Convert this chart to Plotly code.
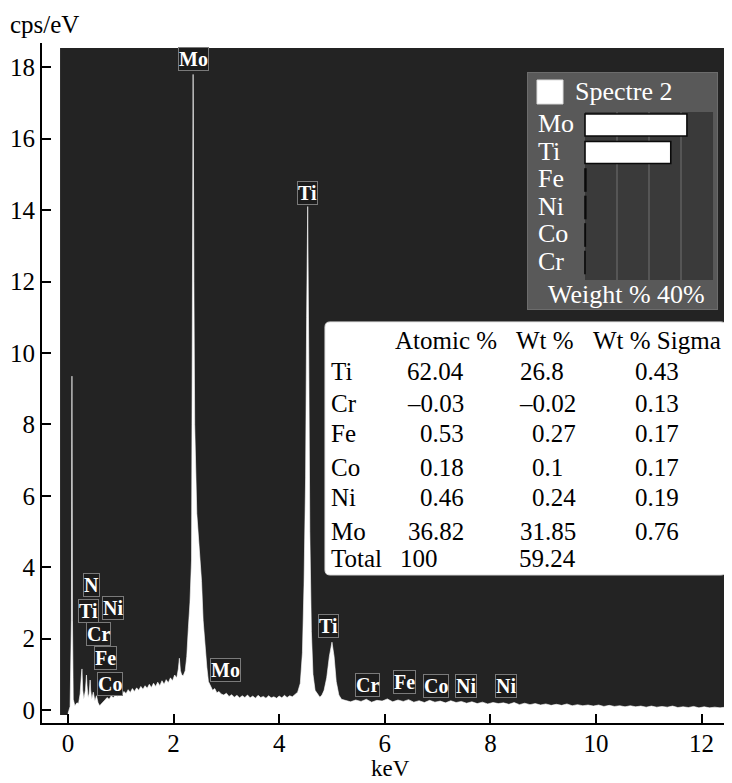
import plotly.graph_objects as go

# ---------------- data ----------------
# EDS spectrum (keV, cps/eV), in segments
energy_low = [0.00, 0.04, 0.065, 0.075, 0.085, 0.10, 0.13, 0.17, 0.20, 0.23,
              0.255, 0.265, 0.28, 0.30, 0.33, 0.35, 0.36, 0.38, 0.40, 0.42,
              0.43, 0.45, 0.48, 0.51, 0.54, 0.57, 0.60, 0.63, 0.66]
counts_low = [-0.10, 0.10, 2.5, 9.35, 2.5, 0.30, 0.12, 0.20, 0.18, 0.45,
              1.00, 1.15, 0.55, 0.30, 0.55, 0.98, 0.70, 0.35, 0.45, 0.84,
              0.55, 0.30, 0.50, 0.25, 0.40, 0.20, 0.12, 0.18, 0.22]

energy_rise = [0.70, 0.74, 0.78, 0.82, 0.86, 0.90, 0.94, 0.98, 1.02, 1.06,
               1.10, 1.14, 1.18, 1.22, 1.26, 1.30, 1.34, 1.38, 1.42, 1.46,
               1.50, 1.54, 1.58, 1.62, 1.66, 1.70, 1.74, 1.78, 1.82, 1.86,
               1.90, 1.94, 1.98, 2.02, 2.06, 2.09, 2.11, 2.13, 2.15, 2.18]
counts_rise = [0.28, 0.35, 0.30, 0.40, 0.34, 0.44, 0.38, 0.50, 0.42, 0.52,
               0.46, 0.57, 0.49, 0.60, 0.52, 0.62, 0.55, 0.66, 0.58, 0.68,
               0.61, 0.72, 0.63, 0.75, 0.66, 0.78, 0.68, 0.82, 0.72, 0.85,
               0.76, 0.90, 0.82, 0.98, 0.90, 1.15, 1.45, 1.10, 1.00, 0.95]

energy_mo = [2.22, 2.25, 2.28, 2.31, 2.34, 2.355, 2.37, 2.385, 2.40, 2.44,
             2.49, 2.53, 2.56, 2.59, 2.63, 2.66]
counts_mo = [1.10, 1.50, 2.30, 3.00, 4.20, 9.00, 17.80, 12.0, 8.0, 5.5,
             4.3, 3.6, 2.5, 1.9, 1.2, 0.8]

energy_mid = [2.70, 2.74, 2.78, 2.82, 2.86, 2.90, 2.95, 3.00, 3.05, 3.10,
              3.15, 3.20, 3.25, 3.30, 3.35, 3.40, 3.45, 3.50, 3.55, 3.60,
              3.65, 3.70, 3.75, 3.80, 3.85, 3.90, 3.95, 4.00, 4.05, 4.10,
              4.15, 4.20, 4.25, 4.30, 4.35]
counts_mid = [0.65, 0.55, 0.60, 0.48, 0.52, 0.45, 0.42, 0.47, 0.38, 0.43,
              0.36, 0.41, 0.34, 0.40, 0.35, 0.42, 0.34, 0.39, 0.33, 0.41,
              0.35, 0.38, 0.33, 0.40, 0.34, 0.37, 0.33, 0.39, 0.34, 0.41,
              0.35, 0.40, 0.37, 0.43, 0.50]

energy_ti = [4.40, 4.44, 4.47, 4.50, 4.52, 4.54, 4.56, 4.58, 4.61, 4.64,
             4.68, 4.72, 4.77, 4.81, 4.85, 4.90, 4.95, 5.00, 5.04, 5.08,
             5.13, 5.18]
counts_ti = [0.75, 1.60, 3.50, 6.50, 11.0, 14.1, 10.0, 5.0, 2.2, 1.0,
             0.55, 0.45, 0.36, 0.42, 0.55, 0.90, 1.50, 1.90, 1.50, 0.80,
             0.42, 0.30]

energy_tail = [5.25, 5.35, 5.45, 5.55, 5.65, 5.75, 5.85, 5.95, 6.05, 6.15,
               6.25, 6.35, 6.45, 6.55, 6.65, 6.75, 6.85, 6.95, 7.05, 7.15,
               7.25, 7.35, 7.45, 7.55, 7.65, 7.75, 7.85, 7.95, 8.05, 8.15,
               8.25, 8.35, 8.45, 8.55, 8.65, 8.75, 8.85, 8.95, 9.05, 9.15,
               9.25, 9.35, 9.45, 9.55, 9.65, 9.75, 9.85, 9.95, 10.05, 10.15,
               10.25, 10.35, 10.45, 10.55, 10.65, 10.75, 10.85, 10.95, 11.05, 11.15,
               11.25, 11.35, 11.45, 11.55, 11.65, 11.75, 11.85, 11.95, 12.05, 12.15,
               12.25, 12.35, 12.45, 12.55, 12.65]
counts_tail = [0.27, 0.23, 0.28, 0.24, 0.30, 0.22, 0.27, 0.25, 0.31, 0.23,
               0.28, 0.24, 0.29, 0.22, 0.26, 0.21, 0.27, 0.22, 0.25, 0.20,
               0.26, 0.21, 0.24, 0.19, 0.23, 0.18, 0.22, 0.17, 0.21, 0.18,
               0.20, 0.16, 0.21, 0.15, 0.19, 0.15, 0.18, 0.14, 0.17, 0.13,
               0.16, 0.13, 0.17, 0.12, 0.15, 0.12, 0.14, 0.11, 0.14, 0.10,
               0.13, 0.10, 0.12, 0.09, 0.12, 0.09, 0.11, 0.08, 0.11, 0.08,
               0.10, 0.08, 0.11, 0.07, 0.09, 0.07, 0.10, 0.06, 0.09, 0.06,
               0.08, 0.06, 0.08, 0.05, 0.07]

# peak identification labels
peak_labels = ["Mo", "Ti", "Ti", "N", "Ti", "Ni", "Cr", "Fe", "Co", "Mo",
               "Cr", "Fe", "Co", "Ni", "Ni"]
peak_label_kev = [2.37, 4.545, 4.94, 0.44, 0.38, 0.85, 0.57, 0.72, 0.80, 2.99,
                  5.68, 6.38, 6.97, 7.54, 8.30]
peak_label_cps = [18.24, 14.48, 2.35, 3.50, 2.77, 2.86, 2.14, 1.46, 0.74, 1.12,
                  0.70, 0.78, 0.67, 0.67, 0.67]

# quantification table
table_elements = ["Ti", "Cr", "Fe", "Co", "Ni", "Mo"]
atomic_pct = [62.04, -0.03, 0.53, 0.18, 0.46, 36.82]
wt_pct = [26.8, -0.02, 0.27, 0.1, 0.24, 31.85]
wt_sigma = [0.43, 0.13, 0.17, 0.17, 0.19, 0.76]
total_atomic = 100
total_wt = 59.24
table_headers = ["Atomic %", "Wt %", "Wt % Sigma"]

# inset bar chart (weight %)
inset_elements = ["Mo", "Ti", "Fe", "Ni", "Co", "Cr"]
inset_wt = [31.85, 26.8, 0.27, 0.24, 0.1, -0.02]
inset_grid = [10, 20, 30]

x_ticks = [0, 2, 4, 6, 8, 10, 12]
y_ticks = [0, 2, 4, 6, 8, 10, 12, 14, 16, 18]

# ---------------- layout helpers ----------------
# the page body adds an 8 px margin, so the figure is 8 px smaller
SERIF = "Liberation Serif"
OFF = 8
W, H = 732 - OFF, 783 - OFF
ML, MT = 42 - OFF, 43 - OFF
MR = 0
MB = H - (723 - OFF)
PW, PH = W - ML - MR, H - MT - MB


def px(xp):  # page pixel -> paper x
    return (xp - 42) / PW


def py(yp):  # page pixel -> paper y
    return (723 - yp) / PH


def fmt(v):
    return f"{v}".replace("-", "\u2013")


energy = energy_low + energy_rise + energy_mo + energy_mid + energy_ti + energy_tail
counts = counts_low + counts_rise + counts_mo + counts_mid + counts_ti + counts_tail
assert len(energy) == len(counts)

fig = go.Figure()

# spectrum (white filled area)
fig.add_trace(go.Scatter(
    x=energy + [energy[-1], energy[0]],
    y=counts + [-0.6, -0.6],
    fill="toself", fillcolor="white", mode="lines",
    line=dict(color="white", width=0.6), hoverinfo="skip",
    xaxis="x", yaxis="y"))

# inset bars
fig.add_trace(go.Bar(
    x=inset_wt, y=inset_elements, orientation="h", width=0.8,
    marker=dict(color="white", line=dict(color="#0a0a0a", width=1.6)),
    xaxis="x2", yaxis="y2", hoverinfo="skip"))

shapes = []
# dark spectrum background
shapes.append(dict(type="rect", xref="x", yref="y", x0=-0.15, x1=12.7, y0=-0.14, y1=18.54,
                   fillcolor="#232323", line=dict(width=0), layer="below"))
# table box (rounded)
x0, x1 = (325 - 68) / 52.8, (726 - 68) / 52.8
y0, y1 = (710 - 575) / 35.7, (710 - 322) / 35.7
rx, ry = 5 / 52.8, 5 / 35.7
path = (f"M {x0+rx},{y1} L {x1-rx},{y1} Q {x1},{y1} {x1},{y1-ry} L {x1},{y0+ry} "
        f"Q {x1},{y0} {x1-rx},{y0} L {x0+rx},{y0} Q {x0},{y0} {x0},{y0+ry} "
        f"L {x0},{y1-ry} Q {x0},{y1} {x0+rx},{y1} Z")
shapes.append(dict(type="path", xref="x", yref="y", path=path, fillcolor="white",
                   line=dict(color="#dddddd", width=1), layer="below"))
# inset background boxes
shapes.append(dict(type="rect", xref="x2", yref="y2", x0=-18.125, x1=41.56, y0=6.727, y1=-1.927,
                   fillcolor="#595959", line=dict(color="#6c6c6c", width=2), layer="below"))
shapes.append(dict(type="rect", xref="x2", yref="y2", x0=0, x1=40, y0=5.636, y1=-0.473,
                   fillcolor="#3a3a3a", line=dict(width=0), layer="below"))
for g in inset_grid:
    shapes.append(dict(type="line", xref="x2", yref="y2", x0=g, x1=g, y0=5.636, y1=-0.473,
                       line=dict(color="#555555", width=2), layer="below"))
shapes.append(dict(type="rect", xref="x2", yref="y2", x0=-15, x1=-6.875, y0=-0.764, y1=-1.636,
                   fillcolor="white", line=dict(color="#dddddd", width=1), layer="below"))

annotations = []
# peak labels
for t, e, c in zip(peak_labels, peak_label_kev, peak_label_cps):
    annotations.append(dict(x=e, y=c, xref="x", yref="y", text=t, showarrow=False,
                            font=dict(family=SERIF, size=20, color="white", weight="bold"),
                            bgcolor="#1c1c1c", bordercolor="#7a7a7a", borderwidth=1, borderpad=0))

# axis titles
afont = dict(family=SERIF, size=25, color="black")
annotations.append(dict(x=px(8), y=py(24), xref="paper", yref="paper", text="cps/eV",
                        showarrow=False, xanchor="left", yanchor="middle", font=afont))
annotations.append(dict(x=px(390), y=py(783), xref="paper", yref="paper", text="keV",
                        showarrow=False, xanchor="center", yanchor="bottom",
                        font=dict(family=SERIF, size=23, color="black")))

# table text
tfont = dict(family=SERIF, size=25, color="black")
header_x = [446, 545, 657]
for h, hx in zip(table_headers, header_x):
    annotations.append(dict(x=px(hx), y=py(340), xref="paper", yref="paper", text=h,
                            showarrow=False, xanchor="center", yanchor="middle", font=tfont))
row_y = [372, 403, 433, 467, 497, 531]
wt_pad = {26.8: "\u2007", 0.1: "\u2007"}
for el, a, w_, s, ry_ in zip(table_elements, atomic_pct, wt_pct, wt_sigma, row_y):
    annotations.append(dict(x=px(329), y=py(ry_), xref="paper", yref="paper", text=el,
                            showarrow=False, xanchor="left", yanchor="middle", font=tfont))
    annotations.append(dict(x=px(466), y=py(ry_), xref="paper", yref="paper", text=fmt(a),
                            showarrow=False, xanchor="right", yanchor="middle", font=tfont))
    annotations.append(dict(x=px(578), y=py(ry_), xref="paper", yref="paper",
                            text=fmt(w_) + wt_pad.get(w_, ""),
                            showarrow=False, xanchor="right", yanchor="middle", font=tfont))
    annotations.append(dict(x=px(681), y=py(ry_), xref="paper", yref="paper", text=fmt(s),
                            showarrow=False, xanchor="right", yanchor="middle", font=tfont))
annotations.append(dict(x=px(329), y=py(558), xref="paper", yref="paper", text="Total",
                        showarrow=False, xanchor="left", yanchor="middle", font=tfont))
annotations.append(dict(x=px(398), y=py(558), xref="paper", yref="paper", text=fmt(total_atomic),
                        showarrow=False, xanchor="left", yanchor="middle", font=tfont))
annotations.append(dict(x=px(578), y=py(558), xref="paper", yref="paper", text=fmt(total_wt),
                        showarrow=False, xanchor="right", yanchor="middle", font=tfont))

# inset text
ifont = dict(family=SERIF, size=26, color="white")
annotations.append(dict(x=-3.75, y=-1.2, xref="x2", yref="y2", text="Spectre 2",
                        showarrow=False, xanchor="left", yanchor="middle", font=ifont))
for i, el in enumerate(inset_elements):
    annotations.append(dict(x=-15.3, y=i - 0.05, xref="x2", yref="y2", text=el,
                            showarrow=False, xanchor="left", yanchor="middle", font=ifont))
annotations.append(dict(x=-12.2, y=6.18, xref="x2", yref="y2", text="Weight % 40%",
                        showarrow=False, xanchor="left", yanchor="middle", font=ifont))

axis_style = dict(showline=True, linewidth=2, linecolor="black", ticks="inside", ticklen=9,
                  tickwidth=2, tickcolor="black", showgrid=False, zeroline=False,
                  tickfont=dict(family=SERIF, size=25, color="black"), fixedrange=True)

fig.update_layout(
    width=W, height=H, margin=dict(l=ML, r=MR, t=MT, b=MB, autoexpand=False),
    paper_bgcolor="white", plot_bgcolor="rgba(0,0,0,0)", showlegend=False,
    xaxis=dict(range=[-0.492, 12.576], tickvals=x_ticks, ticklabelstandoff=-3, **axis_style),
    yaxis=dict(range=[-0.364, 18.68], tickvals=y_ticks, **axis_style),
    xaxis2=dict(domain=[px(527), px(718)], range=[-18.125, 41.56], anchor="y2",
                visible=False, fixedrange=True),
    yaxis2=dict(domain=[py(310), py(72)], range=[6.727, -1.927], anchor="x2", type="category",
                categoryorder="array", categoryarray=inset_elements,
                visible=False, fixedrange=True),
    shapes=shapes, annotations=annotations, bargap=0.2,
)

fig.write_html("out.html")
